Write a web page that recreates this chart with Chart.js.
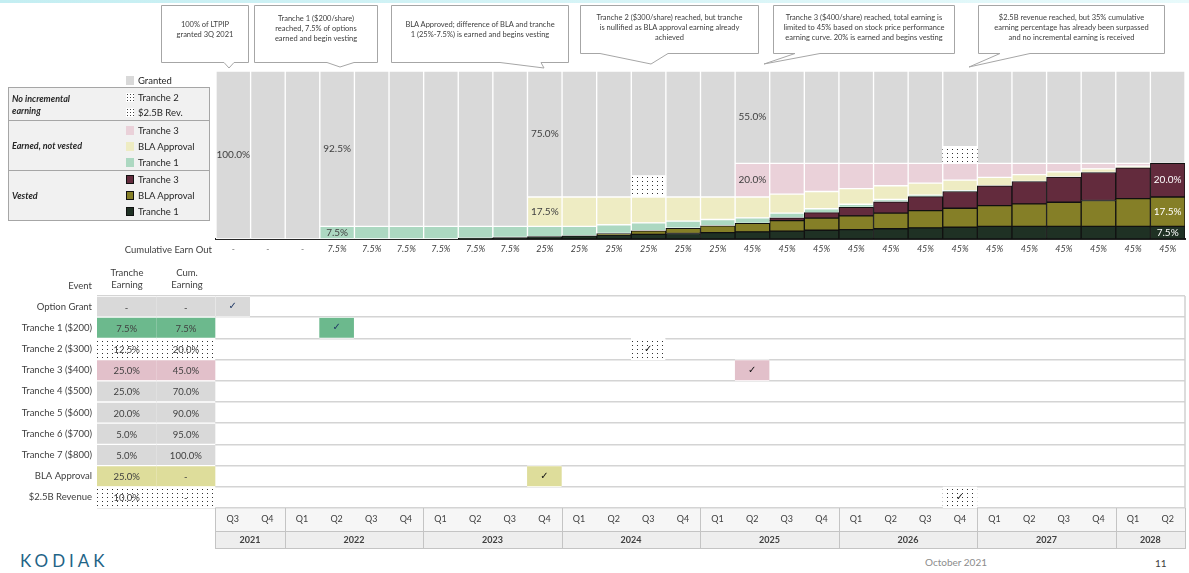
<!DOCTYPE html>
<html lang="en">
<head>
<meta charset="UTF-8" />
<title>LTPIP Earn Out Timeline</title>
<script src="https://cdn.jsdelivr.net/npm/chart.js"></script>
<style>
  body { margin:0; background:#fff; font-family: Lato, "Open Sans", sans-serif; color:#404040; }
  .slide { position:relative; width:1189px; height:573px; overflow:hidden; background:#fff; }
  .topline { position:absolute; left:0; top:0; width:1189px; height:3px; background:linear-gradient(90deg,#c4eef2,#e8fafb); }
  canvas { position:absolute; left:0; }
  #earnChart { top:0; }
  #eventChart { top:260px; }
  svg.callouts { position:absolute; left:0; top:0; }
  .note { position:absolute; font-size:7.5px; line-height:10px; text-align:center; color:#404040; }
  .lgbox { position:absolute; left:8px; width:202px; background:#f1f1f1; border:1px solid #a6a6a6; box-sizing:border-box; }
  .lghead { position:absolute; left:12px; font-size:9px; font-weight:bold; font-style:italic; line-height:12px; color:#262626; }
  .lgitem { position:absolute; left:126px; font-size:9.5px; line-height:10px; white-space:nowrap; color:#262626; }
  .sw { display:inline-block; width:8px; height:9px; margin-right:4px; vertical-align:-1px; box-sizing:border-box; }
  .dots { background: radial-gradient(circle, #444 0.6px, transparent 0.9px) 0 0/3px 3px, #fff; }
  .txt { position:absolute; font-size:9.5px; white-space:nowrap; color:#404040; }
</style>
</head>
<body>
<div class="slide">
  <div class="topline"></div>
  <canvas id="earnChart" width="1189" height="259"></canvas>
  <canvas id="eventChart" width="1189" height="289"></canvas>

  <svg class="callouts" width="1189" height="80">
    <g fill="#fff" stroke="#a6a6a6" stroke-width="1">
      <path d="M161.5,5.5 H248.5 V62.5 H234 L229,68 L224,62.5 H161.5 Z"/>
      <path d="M254.5,5.5 H377.5 V62.5 H354 L340,67 L327,62.5 H254.5 Z"/>
      <path d="M391.5,5.5 H568.5 V62.5 H541 L544,68 L500,62.5 H391.5 Z"/>
      <path d="M580.5,5.5 H758.5 V53.5 H668 L651,64 L600,53.5 H580.5 Z"/>
      <path d="M773.5,5.5 H954.5 V53.5 H820 L764,64 L795,53.5 H773.5 Z"/>
      <path d="M978.5,5.5 H1164.5 V53.5 H1030 L969,67 L1000,53.5 H978.5 Z"/>
    </g>
  </svg>
  <div class="note" style="left:161px;width:88px;top:20px">100% of LTPIP<br>granted 3Q 2021</div>
  <div class="note" style="left:254px;width:124px;top:14px">Tranche 1 ($200/share)<br>reached, 7.5% of options<br>earned and begin vesting</div>
  <div class="note" style="left:391px;width:178px;top:20px">BLA Approved; difference of BLA and tranche<br>1 (25%-7.5%) is earned and begins vesting</div>
  <div class="note" style="left:580px;width:179px;top:13px">Tranche 2 ($300/share) reached, but tranche<br>is nullified as BLA approval earning already<br>achieved</div>
  <div class="note" style="left:773px;width:182px;top:13px">Tranche 3 ($400/share) reached, total earning is<br>limited to 45% based on stock price performance<br>earning curve. 20% is earned and begins vesting</div>
  <div class="note" style="left:978px;width:187px;top:13px">$2.5B revenue reached, but 35% cumulative<br>earning percentage has already been surpassed<br>and no incremental earning is received</div>

  <div class="lgitem" style="top:76px"><span class="sw" style="background:#d9d9d9"></span>Granted</div>
  <div class="lgbox" style="top:87px;height:34px"></div>
  <div class="lgbox" style="top:120px;height:51px"></div>
  <div class="lgbox" style="top:170px;height:51px"></div>
  <div class="lghead" style="top:93px">No incremental<br>earning</div>
  <div class="lghead" style="top:140px">Earned, not vested</div>
  <div class="lghead" style="top:190px">Vested</div>
  <div class="lgitem" style="top:93px"><span class="sw dots"></span>Tranche 2</div>
  <div class="lgitem" style="top:108px"><span class="sw dots"></span>$2.5B Rev.</div>
  <div class="lgitem" style="top:126px"><span class="sw" style="background:#ead1d9"></span>Tranche 3</div>
  <div class="lgitem" style="top:142px"><span class="sw" style="background:#eeecc3"></span>BLA Approval</div>
  <div class="lgitem" style="top:158px"><span class="sw" style="background:#acd8c1"></span>Tranche 1</div>
  <div class="lgitem" style="top:175px"><span class="sw" style="background:#632b3d;border:1px solid #111"></span>Tranche 3</div>
  <div class="lgitem" style="top:191px"><span class="sw" style="background:#857f27;border:1px solid #111"></span>BLA Approval</div>
  <div class="lgitem" style="top:207px"><span class="sw" style="background:#1f3124;border:1px solid #111"></span>Tranche 1</div>

  <div class="txt" style="right:977px;top:244px">Cumulative Earn Out</div>
  <div class="txt" style="right:1097px;top:280px">Event</div>
  <div class="txt" style="left:97px;width:60px;top:267px;text-align:center;line-height:12px">Tranche<br>Earning</div>
  <div class="txt" style="left:157px;width:60px;top:267px;text-align:center;line-height:12px">Cum.<br>Earning</div>

  <div style="position:absolute;left:20px;top:550px;font-size:17px;letter-spacing:4px;color:#1f6487;">KODIAK</div>
  <div class="txt" style="left:925px;top:556px;color:#8c8c8c;font-size:10px">October 2021</div>
  <div class="txt" style="left:1155px;top:557px;font-size:10px">11</div>
</div>

<script>
// time axis
const quarters = ['Q3','Q4','Q1','Q2','Q3','Q4','Q1','Q2','Q3','Q4','Q1','Q2','Q3','Q4',
                  'Q1','Q2','Q3','Q4','Q1','Q2','Q3','Q4','Q1','Q2','Q3','Q4','Q1','Q2'];
const years = ['2021','2022','2023','2024','2025','2026','2027','2028'];
const quartersPerYear = [2,4,4,4,4,4,4,2];
const cumulativeEarnOut = ['-','-','-','7.5%','7.5%','7.5%','7.5%','7.5%','7.5%',
  '25%','25%','25%','25%','25%','25%',
  '45%','45%','45%','45%','45%','45%','45%','45%','45%','45%','45%','45%','45%'];

// stacked series, % of LTPIP (bottom to top)
const vestedTranche1 = [0,0,0,0,0,0,0,0.5,0.9,1.4,1.9,2.3,2.8,3.3,3.8,4.2,4.7,5.2,5.6,6.1,6.6,7.0,7.5,7.5,7.5,7.5,7.5,7.5];
const vestedBLA      = [0,0,0,0,0,0,0,0,0,0,0,1.0,2.1,3.1,4.1,5.1,6.2,7.2,8.2,9.3,10.3,11.3,12.4,13.4,14.4,15.4,16.5,17.5];
const vestedTranche3 = [0,0,0,0,0,0,0,0,0,0,0,0,0,0,0,0,1.7,3.3,5.0,6.7,8.3,10.0,11.7,13.3,15.0,16.7,18.3,20.0];
const earnedTranche1 = [0,0,0,7.5,7.5,7.5,7.5,7.0,6.6,6.1,5.6,5.2,4.7,4.2,3.7,3.3,2.8,2.3,1.9,1.4,0.9,0.5,0,0,0,0,0,0];
const earnedBLA      = [0,0,0,0,0,0,0,0,0,17.5,17.5,16.5,15.4,14.4,13.4,12.4,11.3,10.3,9.3,8.2,7.2,6.2,5.1,4.1,3.1,2.1,1.0,0];
const earnedTranche3 = [0,0,0,0,0,0,0,0,0,0,0,0,0,0,0,20.0,18.3,16.7,15.0,13.3,11.7,10.0,8.3,6.7,5.0,3.3,1.7,0];
const tranche2NoEarning = [0,0,0,0,0,0,0,0,0,0,0,0,12.5,0,0,0,0,0,0,0,0,0,0,0,0,0,0,0];
const revenueNoEarning  = [0,0,0,0,0,0,0,0,0,0,0,0,0,0,0,0,0,0,0,0,0,10.0,0,0,0,0,0,0];
const granted = [100,100,100,92.5,92.5,92.5,92.5,92.5,92.5,75,75,75,62.5,75,75,
                 55,55,55,55,55,55,45,55,55,55,55,55,55];

// event table
const events = ['Option Grant','Tranche 1 ($200)','Tranche 2 ($300)','Tranche 3 ($400)','Tranche 4 ($500)',
                'Tranche 5 ($600)','Tranche 6 ($700)','Tranche 7 ($800)','BLA Approval','$2.5B Revenue'];
const trancheEarning = ['-','7.5%','12.5%','25.0%','25.0%','20.0%','5.0%','5.0%','25.0%','10.0%'];
const cumEarning     = ['-','7.5%','20.0%','45.0%','70.0%','90.0%','95.0%','100.0%','-','-'];
const eventQuarter   = [0,3,12,15,null,null,null,null,9,21];

function dotPattern() {
  const c = document.createElement('canvas');
  c.width = 5; c.height = 4;
  const g = c.getContext('2d');
  g.fillStyle = '#fff'; g.fillRect(0, 0, 5, 4);
  g.fillStyle = '#333'; g.fillRect(2, 1, 1, 1);
  return g.createPattern(c, 'repeat');
}
const dots = dotPattern();
const font = 'Lato, "Open Sans", sans-serif';

function seg(key, values, color, border, width) {
  return {
    key, label: key,
    data: values.map(v => v || null),
    backgroundColor: color,
    borderColor: border,
    borderWidth: width,
    borderSkipped: false,
    barPercentage: 1, categoryPercentage: 1
  };
}

// labels printed inside the bars: [dataset key, quarter index, text colour]
const barLabels = [
  ['granted', 0, '#404040'], ['granted', 3, '#404040'], ['earnedT1', 3, '#404040'],
  ['granted', 9, '#404040'], ['earnedBLA', 9, '#404040'],
  ['granted', 15, '#404040'], ['earnedT3', 15, '#404040'],
  ['vestedT3', 27, '#fff'], ['vestedBLA', 27, '#fff'], ['vestedT1', 27, '#fff']
];

const barLabelPlugin = {
  id: 'barLabels',
  afterDatasetsDraw(chart) {
    const ctx = chart.ctx;
    ctx.save();
    ctx.font = '10px ' + font;
    ctx.textAlign = 'center';
    ctx.textBaseline = 'middle';
    barLabels.forEach(([key, i, color]) => {
      const di = chart.data.datasets.findIndex(d => d.key === key);
      const el = chart.getDatasetMeta(di).data[i];
      const v = chart.data.datasets[di].data[i];
      ctx.fillStyle = color;
      ctx.fillText(v.toFixed(1) + '%', el.x, (el.y + el.base) / 2);
    });
    ctx.restore();
  }
};

new Chart(document.getElementById('earnChart'), {
  type: 'bar',
  data: {
    labels: quarters,
    datasets: [
      seg('vestedT1', vestedTranche1, '#1f3124', '#111', 1),
      seg('vestedBLA', vestedBLA, '#857f27', '#111', 1),
      seg('vestedT3', vestedTranche3, '#632b3d', '#111', 1),
      seg('earnedT1', earnedTranche1, '#acd8c1', '#fff', 1),
      seg('earnedBLA', earnedBLA, '#eeecc3', '#fff', 1),
      seg('earnedT3', earnedTranche3, '#ead1d9', '#fff', 1),
      seg('tranche2', tranche2NoEarning, dots, '#fff', 0),
      seg('revenue', revenueNoEarning, dots, '#fff', 0),
      seg('granted', granted, '#d9d9d9', '#fff', 1)
    ]
  },
  options: {
    responsive: false,
    animation: false,
    layout: { padding: { left: 216, right: 4, top: 71, bottom: 0 } },
    plugins: { legend: { display: false }, tooltip: { enabled: false } },
    scales: {
      x: {
        stacked: true,
        grid: { display: false, drawTicks: false },
        border: { display: true, color: '#262626', width: 2 },
        ticks: {
          callback: (v, i) => cumulativeEarnOut[i],
          font: { family: font, size: 9, style: 'italic' },
          color: '#404040', padding: 5, maxRotation: 0, autoSkip: false
        },
        afterFit: s => { s.height = 20; }
      },
      y: { stacked: true, display: false, min: 0, max: 100 }
    }
  },
  plugins: [barLabelPlugin]
});

// ---- event table ----
const rowFill = { gray: '#d9d9d9', green: '#6cb98d', pink: '#e2c0ca', yellow: '#dedd9b', dots: dots };
const rowStyle = ['gray','green','dots','pink','gray','gray','gray','gray','yellow','dots'];
const xMin = -3.42, cumStart = -1.71;

const cell = (vals, color) => ({
  data: vals,
  backgroundColor: color,
  borderColor: '#fff',
  borderWidth: { top: 1, bottom: 1, left: 0, right: 0 },
  borderSkipped: false,
  grouped: false,
  barPercentage: 1, categoryPercentage: 1, xAxisID: 'x'
});

const earnCells = events.map(e => ({ x: [xMin, cumStart], y: e }));
const cumCells = events.map(e => ({ x: [cumStart, 0], y: e }));
const checkRows = events.map((e, i) => i).filter(i => eventQuarter[i] !== null);
const checkCells = checkRows.map(i => ({ x: [eventQuarter[i], eventQuarter[i] + 1], y: events[i] }));

const tablePlugin = {
  id: 'tableDecor',
  beforeDraw(chart) {
    const { ctx, scales } = chart;
    const l = scales.x.getPixelForValue(0), r = scales.x.getPixelForValue(28);
    ctx.save();
    ctx.fillStyle = '#f6f6f6';
    ctx.fillRect(l, scales.x.top, r - l, scales.x.bottom - scales.x.top);
    ctx.fillStyle = '#eeeeee';
    ctx.fillRect(l, scales.x2.top, r - l, scales.x2.bottom - scales.x2.top);
    ctx.restore();
  },
  afterDatasetsDraw(chart) {
    const { ctx } = chart;
    ctx.save();
    ctx.textAlign = 'center';
    ctx.textBaseline = 'middle';
    ctx.font = '9.5px ' + font;
    ctx.fillStyle = '#404040';
    [[0, trancheEarning], [1, cumEarning]].forEach(([di, texts]) => {
      chart.getDatasetMeta(di).data.forEach((el, i) => {
        ctx.fillText(texts[i], (el.x + el.base) / 2, el.y + 1);
      });
    });
    ctx.font = 'bold 10px "DejaVu Sans"';
    chart.getDatasetMeta(2).data.forEach((el, k) => {
      ctx.fillStyle = checkRows[k] <= 1 ? '#1f3864' : '#111';
      ctx.fillText('\u2713', (el.x + el.base) / 2, el.y);
    });
    ctx.restore();
  },
  afterDraw(chart) {
    const { ctx, scales, chartArea } = chart;
    const x = scales.x;
    const l = x.getPixelForValue(0), r = x.getPixelForValue(28);
    ctx.save();
    ctx.strokeStyle = '#d0d0d0';
    ctx.lineWidth = 1.5;
    ctx.beginPath();
    ctx.moveTo(chartArea.right, chartArea.top); ctx.lineTo(chartArea.right, chartArea.bottom);
    ctx.stroke();
    ctx.strokeStyle = '#c4c4c4';
    ctx.lineWidth = 1;
    ctx.beginPath();
    ctx.moveTo(l, scales.x2.top + 0.5); ctx.lineTo(r, scales.x2.top + 0.5);
    ctx.moveTo(l, scales.x2.bottom - 0.5); ctx.lineTo(r, scales.x2.bottom - 0.5);
    let q = 0;
    [0, ...quartersPerYear].forEach(n => {
      q += n;
      const px = Math.round(x.getPixelForValue(q)) + 0.5;
      ctx.moveTo(px, x.top); ctx.lineTo(px, scales.x2.bottom);
    });
    ctx.stroke();
    ctx.restore();
  }
};

const yearMid = [];
quartersPerYear.reduce((s, n) => { yearMid.push(s + n / 2); return s + n; }, 0);

new Chart(document.getElementById('eventChart'), {
  type: 'bar',
  data: {
    labels: events,
    datasets: [
      cell(earnCells, rowStyle.map(s => rowFill[s])),
      cell(cumCells, rowStyle.map(s => rowFill[s])),
      cell(checkCells, checkRows.map(i => rowFill[rowStyle[i]]))
    ]
  },
  options: {
    indexAxis: 'y',
    responsive: false,
    animation: false,
    layout: { padding: { left: 0, right: 4, top: 36, bottom: 0 } },
    plugins: { legend: { display: false }, tooltip: { enabled: false } },
    scales: {
      y: {
        type: 'category',
        grid: { color: '#d4d4d4', lineWidth: 1.5, offset: true, drawTicks: false },
        border: { display: false },
        ticks: { font: { family: font, size: 9.5 }, color: '#404040', padding: 5 },
        afterFit: s => { s.width = 97; }
      },
      x: {
        type: 'linear', position: 'bottom', weight: 1, min: xMin, max: 28,
        grid: { display: false, drawTicks: false },
        border: { display: false },
        afterBuildTicks: s => { s.ticks = quarters.map((q, i) => ({ value: i + 0.5 })); },
        ticks: {
          callback: (v, i) => quarters[i],
          autoSkip: false, maxRotation: 0, padding: 6,
          font: { family: font, size: 9 }, color: '#404040'
        },
        afterFit: s => { s.height = 23; }
      },
      x2: {
        type: 'linear', position: 'bottom', weight: 2, min: xMin, max: 28,
        grid: { display: false, drawTicks: false },
        border: { display: false },
        afterBuildTicks: s => { s.ticks = yearMid.map(m => ({ value: m })); },
        ticks: {
          callback: (v, i) => years[i],
          autoSkip: false, maxRotation: 0, padding: 4,
          font: { family: font, size: 9, weight: 'bold' }, color: '#404040'
        },
        afterFit: s => { s.height = 18; }
      }
    }
  },
  plugins: [tablePlugin]
});
</script>
</body>
</html>
